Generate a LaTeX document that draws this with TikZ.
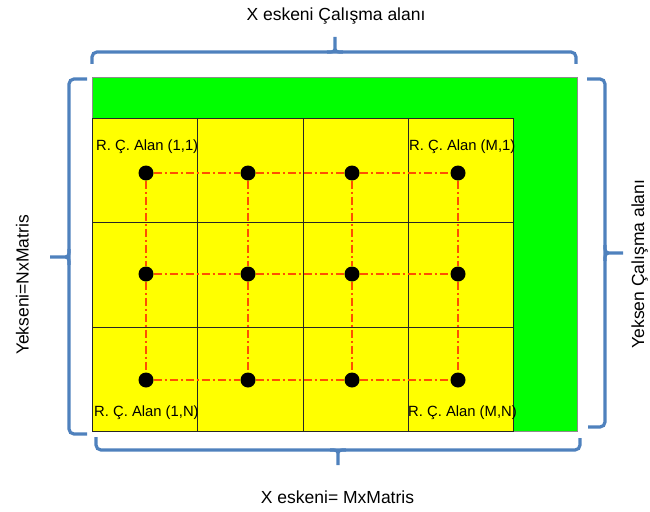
\documentclass[tikz,border=0pt]{standalone}
\usepackage{fontspec}
\setmainfont{Liberation Sans}
\usepackage{tikz}
\usetikzlibrary{positioning,calc}
\definecolor{cArea}{RGB}{0,255,0}
\definecolor{cCell}{RGB}{255,255,0}
\definecolor{cBrace}{RGB}{79,129,189}
\definecolor{cRoute}{RGB}{255,80,0}

\begin{document}
\begin{tikzpicture}[x=1pt,y=-1pt,
  area/.style={draw=black!45,fill=cArea,line width=0.8pt,minimum width=485pt,minimum height=354pt,inner sep=0pt,anchor=north west},
  cell/.style={draw=black!85,fill=cCell,line width=0.8pt,minimum width=105.25pt,minimum height=104.33pt,inner sep=0pt,anchor=north west},
  dot/.style={circle,fill=black,minimum size=15pt,inner sep=0pt},
  route/.style={cRoute,line width=1.3pt,dash pattern=on 8pt off 3pt on 2pt off 3pt},
  brace/.style={cBrace,line width=3.2pt},
  axis/.style={font=\fontsize{17.5}{20}\selectfont,inner sep=0pt,anchor=base},
  lab/.style={font=\fontsize{14.8}{17}\selectfont,inner sep=0pt,anchor=base west}]
  \useasboundingbox (0,0) rectangle (650,511);
  % working area and the yellow matrix of cells
  \node[area] (area) at (92,77) {};
  \foreach \c/\x in {1/92,2/197.25,3/302.5,4/407.75}
    \foreach \r/\y in {1/118,2/222.33,3/326.67}
      \node[cell] (c\c\r) at (\x,\y) {};
  \node[lab] (l11) at (96,150) {R. Ç. Alan (1,1)};
  \node[lab] (lM1) at (409,150) {R. Ç. Alan (M,1)};
  \node[lab] (l1N) at (94,416) {R. Ç. Alan (1,N)};
  \node[lab] (lMN) at (408,416) {R. Ç. Alan (M,N)};
  % cell centres and the dash-dot route between them
  \foreach \c/\x in {1/146,2/248,3/352,4/458}
    \foreach \r/\y in {1/173,2/274,3/380}
      \node[dot] (d\c\r) at (\x,\y) {};
  \foreach \r in {1,2,3}
    \draw[route] (d1\r) -- (d2\r) -- (d3\r) -- (d4\r);
  \foreach \c in {1,...,4}
    \draw[route] (d\c1) -- (d\c2) -- (d\c3);
  % braces
  \draw[brace,rounded corners=5pt] (92,64) -- (92,52) -- (576,52) -- (576,64);
  \draw[brace] (327,52) .. controls (335,52) .. (335,45) -- (335,37) (343,52) .. controls (335,52) .. (335,45);
  \draw[brace,rounded corners=5pt] (96,437) -- (96,450) -- (580,450) -- (580,438);
  \draw[brace] (330,450) .. controls (338,450) .. (338,457) -- (338,465) (346,450) .. controls (338,450) .. (338,457);
  \draw[brace,rounded corners=5pt] (87,79) -- (69,79) -- (69,434) -- (87,434);
  \draw[brace] (69,249) .. controls (69,257) .. (61,257) -- (50,257) (69,265) .. controls (69,257) .. (61,257);
  \draw[brace,rounded corners=5pt] (587,79) -- (605,79) -- (605,427) -- (588,427);
  \draw[brace] (605,245) .. controls (605,253) .. (613,253) -- (623,253) (605,261) .. controls (605,253) .. (613,253);
  % axis texts
  \node[axis] (xtop) at (336,20.5) {X eskeni Çalışma alanı};
  \node[axis] (xbot) at (337.5,503.5) {X eskeni= MxMatris};
  \node[axis,rotate=90] (yleft) at (28.5,285) {Yekseni=NxMatris};
  \node[axis,rotate=90] (yright) at (644,264) {Yeksen Çalışma alanı};
\end{tikzpicture}
\end{document}
